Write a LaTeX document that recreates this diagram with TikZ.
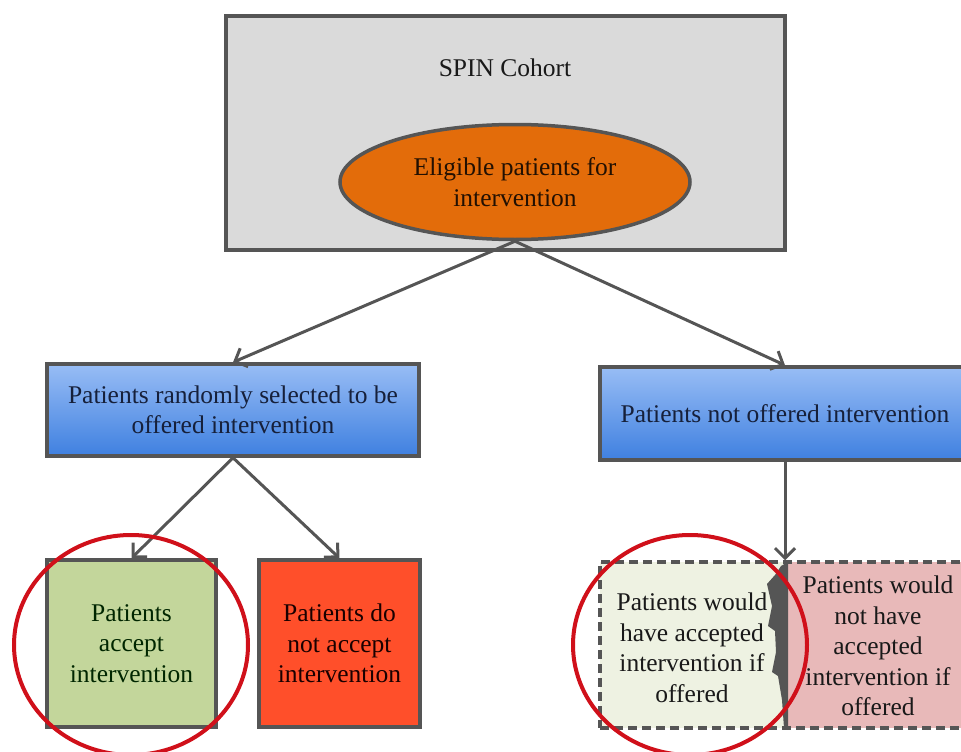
\documentclass[tikz,border=0pt]{standalone}
\usepackage{fontspec}
\setmainfont{Liberation Serif}
\usetikzlibrary{shapes.geometric,arrows.meta}
\definecolor{edge}{HTML}{555555}
\definecolor{grayfill}{HTML}{DADADA}
\definecolor{orangefill}{HTML}{E36C0A}
\definecolor{bluetop}{HTML}{98BDF5}
\definecolor{bluebot}{HTML}{3F80E0}
\definecolor{greenfill}{HTML}{C3D69B}
\definecolor{redfill}{HTML}{FF4F2A}
\definecolor{palegreen}{HTML}{EEF2E2}
\definecolor{palepink}{HTML}{E8B9B9}
\definecolor{circred}{HTML}{D0101A}
\definecolor{navytext}{HTML}{16203A}
\tikzset{
  txt/.style={font=\fontspec{Liberation Serif}\fontsize{25.5}{30.5}\selectfont, align=center, text=black!90},
  boxbase/.style={draw=edge, line width=3.5pt, inner sep=0pt},
  bluebox/.style={boxbase, top color=bluetop, bottom color=bluebot, txt, text=navytext},
  arr/.style={draw=edge, line width=3pt, -{Straight Barb[length=10pt,width=20pt,line width=3pt]}},
  ring/.style={draw=circred, line width=4pt},
}
\begin{document}
\begin{tikzpicture}[x=1pt,y=-1pt]
\useasboundingbox (0,0) rectangle (961,752);
\clip (0,0) rectangle (961,752);
% top cohort box
\node[boxbase, fill=grayfill, minimum width=559pt, minimum height=234pt] (cohort) at (505.5,133) {};
\node[txt] (spin) at (505,68) {SPIN Cohort};
\node[boxbase, ellipse, fill=orangefill, minimum width=350pt, minimum height=115pt, txt, text=black!85!orangefill] (elig) at (515,182) {Eligible patients for\\intervention};
% second level
\node[bluebox, minimum width=372pt, minimum height=92pt] (rand) at (233,410) {Patients randomly selected to be\\offered intervention};
\node[bluebox, minimum width=370pt, minimum height=93pt] (notoff) at (785,413.5) {Patients not offered intervention};
% third level left
\node[boxbase, fill=greenfill, minimum width=169pt, minimum height=167pt, txt, text=black!85!green] (acc) at (131.5,643.5) {Patients\\accept\\intervention};
\node[boxbase, fill=redfill, minimum width=161pt, minimum height=167pt, txt, text=black!90!red] (rej) at (339.5,643.5) {Patients do\\not accept\\intervention};
% third level right (hypothetical)
\fill[palegreen] (600,562) rectangle (785,728);
\fill[palepink] (785,562) rectangle (970,728);
\node[draw=edge, line width=3.5pt, dash pattern=on 9pt off 5pt, minimum width=370pt, minimum height=166pt, inner sep=0pt] (hyp) at (785,645) {};
\fill[edge] (788,562) -- (781,566) -- (775,575) -- (767,584) -- (772,606) -- (768,626) -- (775,631) -- (776,652) -- (772,672) -- (778,676) -- (782,700) -- (784,728) -- (788,728) -- cycle;
\node[txt] (would) at (692,648) {Patients would\\have accepted\\intervention if\\offered};
\node[txt] (wouldnot) at (878,646) {Patients would\\not have\\accepted\\intervention if\\offered};
% connectors
\draw[arr] (elig.south) -- (rand.north);
\draw[arr] (elig.south) -- (notoff.north);
\draw[arr] (rand.south) -- (acc.north);
\draw[arr] (rand.south) -- (rej.north);
\draw[arr] (notoff.south) -- (hyp.north);
% highlight rings
\draw[ring] (131,645) ellipse [x radius=117pt, y radius=110pt];
\draw[ring] (690,645) ellipse [x radius=117pt, y radius=110pt];
\end{tikzpicture}
\end{document}
